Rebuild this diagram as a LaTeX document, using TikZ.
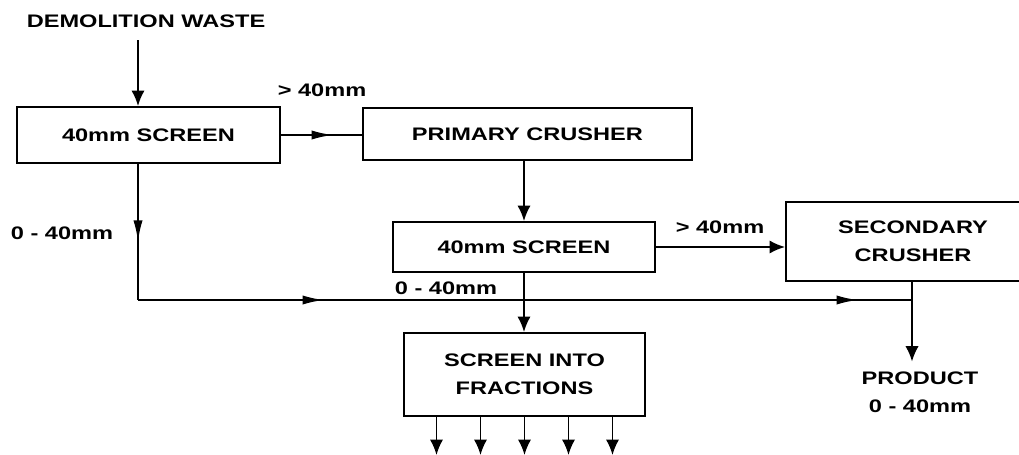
\documentclass[tikz,border=0pt]{standalone}
\usepackage{fontspec}
\setmainfont{Liberation Sans}[FakeStretch=1.3]
\usetikzlibrary{arrows.meta,decorations.markings}

\newcommand*{\xmax}{1019}
\newcommand*{\ymax}{454}

\begin{document}
\begin{tikzpicture}
[
	x=0.025cm,
	y=-0.025cm,
	line width=1.4pt,
	every node/.style={font=\fontsize{12.9pt}{20pt}\selectfont\bfseries},
	blockbox/.style={draw,line width=1.4pt,inner sep=0pt,align=center},
	flow/.style={-{Latex[length=11pt,width=9.5pt]}},
	midarrow/.style={postaction={decorate,decoration={markings,mark=at position #1 with {\arrow{Latex[length=15pt,width=6.5pt]}}}}}
]

	\useasboundingbox (0,0) rectangle (\xmax,\ymax);

	% blocks
	\node (dw) at (146,21) {DEMOLITION WASTE};
	\node[blockbox,minimum width=6.575cm,minimum height=1.4cm] (s1) at (148.5,135) {40mm SCREEN};
	\node[blockbox,minimum width=8.225cm,minimum height=1.3cm] (pc) at (527.5,134) {PRIMARY CRUSHER};
	\node[blockbox,minimum width=6.55cm,minimum height=1.25cm] (s2) at (524,247) {40mm SCREEN};
	\node[blockbox,minimum width=6.35cm,minimum height=1.975cm] (sc) at (913,241.5) {SECONDARY\\CRUSHER};
	\node[blockbox,minimum width=6.025cm,minimum height=2.075cm] (sf) at (524.5,374.5) {SCREEN INTO\\FRACTIONS};
	\node[align=center,inner sep=6.7pt] (prod) at (920,392.5) {PRODUCT\\0 - 40mm};

	% size labels
	\node (big1) at (322,90) {> 40mm};
	\node (fine1) at (62,233) {0 - 40mm};
	\node (big2) at (720,227) {> 40mm};
	\node (fine2) at (446,288) {0 - 40mm};

	% flows
	\coordinate (feed) at (138,40);
	\coordinate (bend) at (138,300);
	\coordinate (join) at (912,300);
	\draw[flow] (feed) -- (feed |- s1.north);
	\draw[midarrow=0.64] (s1.east) -- (s1.east -| pc.west);
	\draw[flow] (s2.north |- pc.south) -- (s2.north);
	\draw[flow] (s2.east) -- (s2.east -| sc.west);
	\draw[midarrow=0.57] (s1.south -| bend) -- (bend);
	\draw[midarrow=0.24,midarrow=0.93] (bend) -- (join);
	\draw[flow] (sc.south -| join) -- (join |- prod.north);
	\draw[flow] (s2.south) -- (s2.south |- sf.north);
	\foreach \dx in {-88,-44,0,44,88}
		\draw[flow] ([xshift=\dx*0.025cm]sf.south) -- ++(0,38);

\end{tikzpicture}
\end{document}
